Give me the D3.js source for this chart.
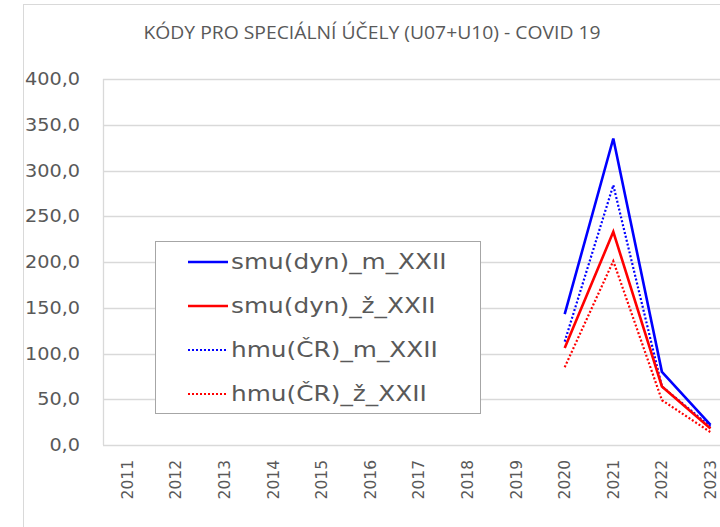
<!DOCTYPE html>
<html>
<head>
<meta charset="utf-8">
<script src="https://cdn.jsdelivr.net/npm/d3@7"></script>
<style>
  body { margin: 0; background: #fff; }
  svg { display: block; }
</style>
</head>
<body>
<script>
(()=>{
    const width = 720;
    const height = 527;

    // data
    const years = ["2011","2012","2013","2014","2015","2016","2017","2018","2019","2020","2021","2022","2023"];
    const smuM = [null,null,null,null,null,null,null,null,null,143,335,80,22];
    const smuZ = [null,null,null,null,null,null,null,null,null,106,233,64,18];
    const hmuM = [null,null,null,null,null,null,null,null,null,113,284,64,20];
    const hmuZ = [null,null,null,null,null,null,null,null,null,85,201,49,14];
    const yTicks = [0,50,100,150,200,250,300,350,400];
    const seriesNames = ["smu(dyn)_m_XXII","smu(dyn)_ž_XXII","hmu(ČR)_m_XXII","hmu(ČR)_ž_XXII"];
    const title = "KÓDY PRO SPECIÁLNÍ ÚČELY (U07+U10) - COVID 19";

    const series = [
        {name: seriesNames[0], values: smuM, color: "#0000ff", dash: null},
        {name: seriesNames[1], values: smuZ, color: "#ff0000", dash: null},
        {name: seriesNames[2], values: hmuM, color: "#0000ff", dash: "2,2"},
        {name: seriesNames[3], values: hmuZ, color: "#ff0000", dash: "2,2"}
    ];

    const plotLeft = 103, plotTop = 79, plotBottom = 445;
    const step = 48.6;

    // the original picture is a bit wider than tall, so text is stretched sideways
    const stretch = (sel, k) => sel.each(function() {
        const w = this.getComputedTextLength();
        d3.select(this).attr("textLength", w * k).attr("lengthAdjust", "spacingAndGlyphs");
    });

    const x = d3.scaleBand()
        .domain(years)
        .range([plotLeft, plotLeft + step * years.length])
        .padding(0);

    const y = d3.scaleLinear()
        .domain([0, 400])
        .range([plotBottom, plotTop]);

    const svg = d3.create("svg")
        .attr("width", width)
        .attr("height", height)
        .attr("viewBox", [0, 0, width, height]);

    d3.select("body").append(() => svg.node());

    // chart frame (runs off the right / bottom edge)
    svg.append("rect")
        .attr("x", 23.5).attr("y", 4.5)
        .attr("width", 760).attr("height", 560)
        .attr("fill", "none")
        .attr("stroke", "#d9d9d9");

    svg.append("text")
        .attr("x", 372).attr("y", 39)
        .attr("text-anchor", "middle")
        .attr("font-family", "'Open Sans', sans-serif")
        .attr("font-size", 18.5)
        .attr("fill", "#595959")
        .attr("textLength", 457)
        .attr("lengthAdjust", "spacingAndGlyphs")
        .text(title);

    // gridlines
    svg.append("g")
        .selectAll("line")
        .data(yTicks)
        .join("line")
        .attr("x1", plotLeft).attr("x2", x.range()[1])
        .attr("y1", d => Math.round(y(d)) + 0.5)
        .attr("y2", d => Math.round(y(d)) + 0.5)
        .attr("stroke", "#d9d9d9")
        .attr("stroke-width", 1.3);

    svg.append("line")
        .attr("x1", plotLeft + 0.5).attr("x2", plotLeft + 0.5)
        .attr("y1", plotTop).attr("y2", plotBottom)
        .attr("stroke", "#d9d9d9")
        .attr("stroke-width", 1.3);

    // y axis labels
    const yAxis = svg.append("g")
        .attr("transform", `translate(${plotLeft},0)`)
        .call(d3.axisLeft(y).tickValues(yTicks).tickSize(0).tickPadding(23)
            .tickFormat(d => d3.format(".1f")(d).replace(".", ",")));
    yAxis.select(".domain").remove();
    yAxis.selectAll("text")
        .attr("font-family", "'DejaVu Sans', sans-serif")
        .attr("font-size", 17.5)
        .attr("fill", "#595959")
        .call(stretch, 1.1);

    // x axis labels
    const xAxis = svg.append("g")
        .attr("transform", `translate(0,${plotBottom})`)
        .call(d3.axisBottom(x).tickSize(0));
    xAxis.select(".domain").remove();
    xAxis.selectAll("text")
        .attr("font-family", "'DejaVu Sans', sans-serif")
        .attr("font-size", 15.5)
        .attr("fill", "#595959")
        .attr("text-anchor", "end")
        .attr("dy", "0.35em")
        .attr("transform", "translate(0,15) rotate(-90)")
        .attr("x", 0).attr("y", 0);

    const line = d3.line()
        .defined(d => d.v != null)
        .x(d => x(d.year) + x.bandwidth() / 2)
        .y(d => y(d.v));

    const lines = svg.append("g");
    // draw dotted series first, solid on top
    [2, 3, 0, 1].forEach(i => {
        const s = series[i];
        lines.append("path")
            .datum(years.map((yr, j) => ({year: yr, v: s.values[j]})))
            .attr("fill", "none")
            .attr("stroke", s.color)
            .attr("stroke-width", s.dash ? 2.2 : 2.6)
            .attr("stroke-dasharray", s.dash)
            .attr("stroke-linejoin", "miter")
            .attr("d", line);
    });

    // legend
    const legend = svg.append("g");
    legend.append("rect")
        .attr("x", 155.5).attr("y", 241.5)
        .attr("width", 325).attr("height", 172)
        .attr("fill", "#fff")
        .attr("stroke", "#a6a6a6");

    const rows = legend.selectAll("g")
        .data(series)
        .join("g")
        .attr("transform", (d, i) => `translate(0,${262 + i * 44})`);
    rows.append("line")
        .attr("x1", 188).attr("x2", 228)
        .attr("stroke", d => d.color)
        .attr("stroke-width", d => d.dash ? 2 : 2.6)
        .attr("stroke-dasharray", d => d.dash);
    rows.append("text")
        .attr("x", 231)
        .attr("dy", "0.35em")
        .attr("font-family", "'DejaVu Sans', sans-serif")
        .attr("font-size", 21)
        .attr("fill", "#595959")
        .text(d => d.name)
        .call(stretch, 1.18);
})()
</script>
</body>
</html>
